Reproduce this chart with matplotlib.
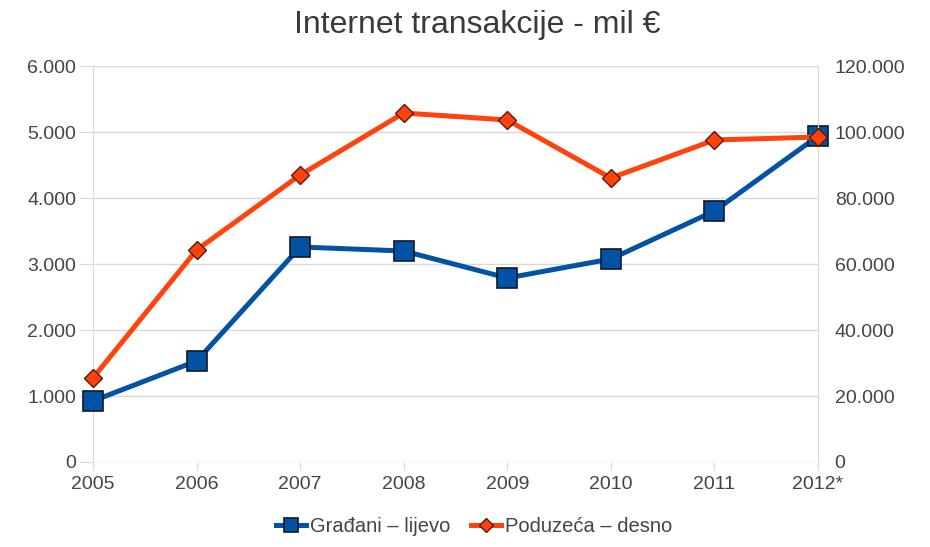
import matplotlib
matplotlib.use("Agg")
import matplotlib.pyplot as plt
from matplotlib.ticker import FuncFormatter

plt.rcParams['font.family'] = ['Liberation Sans', 'DejaVu Sans']

years = ["2005", "2006", "2007", "2008", "2009", "2010", "2011", "2012*"]
gradjani = [925, 1530, 3258, 3197, 2788, 3076, 3803, 4939]
poduzeca = [25450, 64240, 86970, 105760, 103640, 86060, 97580, 98480]

blue = "#0352a3"
orange = "#ff420e"
grid_c = "#d9d9d9"
txt_c = "#444444"


def dotfmt(v, pos):
    return "{:,.0f}".format(v).replace(",", ".")


fig = plt.figure(figsize=(9.3, 5.47), dpi=100)
ax = fig.add_axes([0.1, 0.1554, 0.7796, 0.7239])
ax2 = ax.twinx()

x = range(len(years))
ax.plot(x, gradjani, color=blue, lw=3.6, marker="s", ms=14,
        mfc=blue, mec="#0d1a2a", mew=1.2, label="Građani – lijevo",
        zorder=3, clip_on=False)
ax2.plot(x, poduzeca, color=orange, lw=3.6, marker="D", ms=9,
         mfc=orange, mec="#5a1800", mew=1.0, label="Poduzeća – desno",
         zorder=4, clip_on=False)

ax.set_xlim(0, len(years) - 1)
ax.set_ylim(0, 6000)
ax2.set_ylim(0, 120000)
ax.set_yticks(range(0, 6001, 1000))
ax2.set_yticks(range(0, 120001, 20000))
ax.yaxis.set_major_formatter(FuncFormatter(dotfmt))
ax2.yaxis.set_major_formatter(FuncFormatter(dotfmt))
ax.set_xticks(list(x))
ax.set_xticklabels(years)

ax.grid(axis="y", color=grid_c, lw=1)
ax.set_axisbelow(True)
for a in (ax, ax2):
    for s in a.spines.values():
        s.set_visible(False)
ax.spines["left"].set_visible(True)
ax.spines["left"].set_color(grid_c)
ax2.spines["right"].set_visible(True)
ax2.spines["right"].set_color(grid_c)

ax.tick_params(axis="y", length=10, color=grid_c, labelsize=14, labelcolor=txt_c, pad=2)
ax2.tick_params(axis="y", length=0, labelsize=14, labelcolor=txt_c, pad=12)
ax.tick_params(axis="x", length=6, color=grid_c, labelsize=14, labelcolor=txt_c, pad=4)

fig.suptitle("Internet transakcije - mil €", x=0.513, y=0.982, fontsize=23, color="#3a3a3a")

h1, l1 = ax.get_legend_handles_labels()
h2, l2 = ax2.get_legend_handles_labels()
fig.legend(h1 + h2, l1 + l2, loc="center", bbox_to_anchor=(0.51, 0.037), ncol=2,
           frameon=False, fontsize=14.5, labelcolor=txt_c, handlelength=1.5,
           handletextpad=0.2, columnspacing=1.0, markerscale=0.75)

fig.savefig("out.png", dpi=100, facecolor="white")
